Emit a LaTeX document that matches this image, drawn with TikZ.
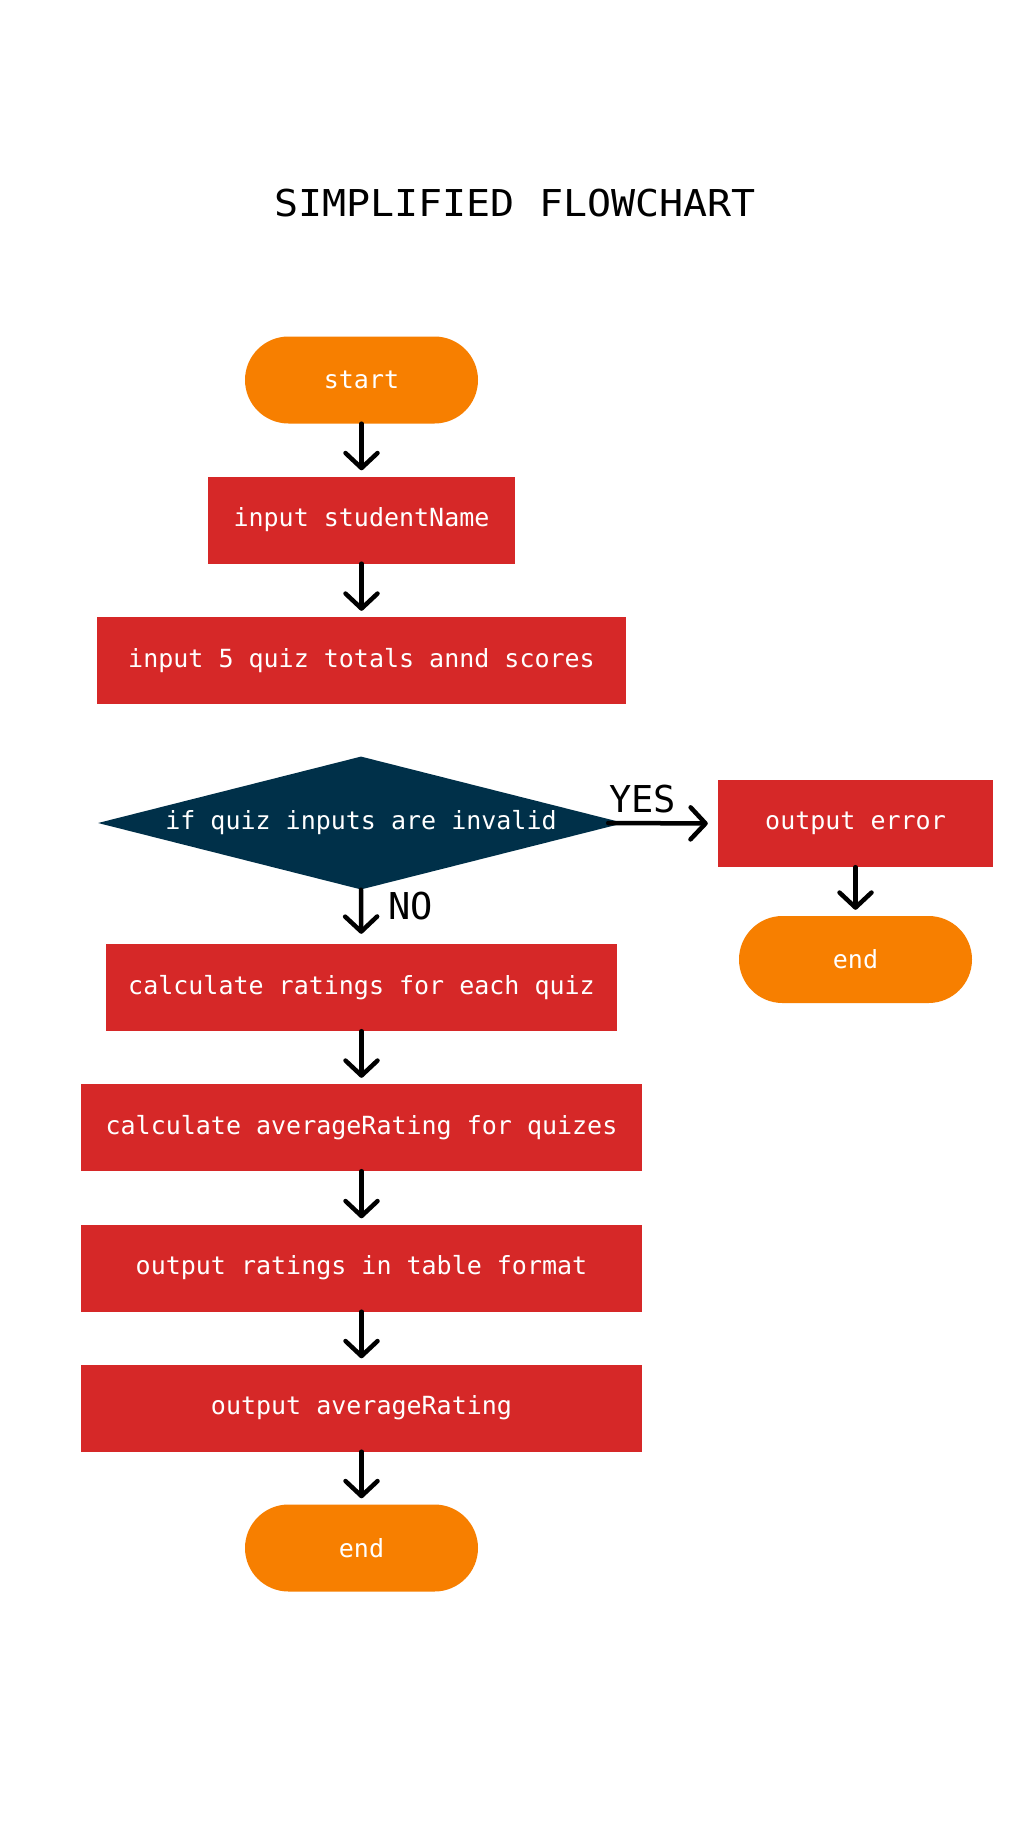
\documentclass[tikz,border=0pt]{standalone}
\usepackage{fontspec}
\usepackage{graphicx}
\usetikzlibrary{shapes.geometric,arrows.meta}
\newfontfamily\monofam{DejaVu Sans Mono}
\definecolor{termorange}{HTML}{F77F00}
\definecolor{procred}{HTML}{D62828}
\definecolor{decnavy}{HTML}{003049}
\begin{document}
\begin{tikzpicture}[x=1pt,y=-1pt,
  boxtext/.style={text=white,font=\monofam\fontsize{25}{30}\selectfont},
  terminal/.style={boxtext,fill=termorange,rounded corners=43.5pt,
    minimum width=233pt,minimum height=87pt,inner sep=0pt},
  process/.style={boxtext,fill=procred,minimum height=87pt,inner sep=0pt},
  decision/.style={boxtext,fill=decnavy,diamond,aspect=3.9,inner sep=0pt,
    minimum width=526pt,minimum height=133pt},
  flow/.style={line width=4.5pt,line cap=round,line join=round,
    -{Straight Barb[length=15pt,width=32pt,line cap=round,line join=round]},
    shorten >=6pt},
  branchlabel/.style={font=\monofam\fontsize{37}{40}\selectfont,inner sep=0pt}]
\useasboundingbox[fill=white] (0,0) rectangle (1029,1831);

% title
\node (title) at (515,203) {\monofam\fontsize{37}{44}\selectfont\scalebox{1.08}[1]{SIMPLIFIED FLOWCHART}};

% main column
\node[terminal] (start) at (361.5,380) {start};
\node[process,minimum width=307pt] (name) at (361.5,520) {input studentName};
\node[process,minimum width=529pt] (quiz) at (361.5,660.5) {input 5 quiz totals annd scores};
\node[decision] (check) at (361,823) {if quiz inputs are invalid};
\node[process,minimum width=511pt] (rate) at (361.5,987.5) {calculate ratings for each quiz};
\node[process,minimum width=561pt] (avg) at (361.5,1127.5) {calculate averageRating for quizes};
\node[process,minimum width=561pt] (table) at (361.5,1268) {output ratings in table format};
\node[process,minimum width=561pt] (outavg) at (361.5,1408) {output averageRating};
\node[terminal] (stop) at (361.5,1548) {end};

% error branch
\node[process,minimum width=275pt] (err) at (855.5,823.5) {output error};
\node[terminal] (errstop) at (855.5,959.5) {end};

% connectors
\draw[flow] (start) -- (name);
\draw[flow] (name) -- (quiz);
\draw[flow,shorten >=10pt] (check.south) -- (rate);
\draw[flow] (rate) -- (avg);
\draw[flow] (avg) -- (table);
\draw[flow] (table) -- (outavg);
\draw[flow] (outavg) -- (stop);
\draw[flow,shorten >=10pt] ([xshift=-16pt]check.east) -- (err.west);
\draw[flow] (err) -- (errstop);

% branch labels
\node[branchlabel,anchor=south west] (yes) at (609,813) {YES};
\node[branchlabel,anchor=west] (no) at (388,906) {NO};
\end{tikzpicture}
\end{document}
